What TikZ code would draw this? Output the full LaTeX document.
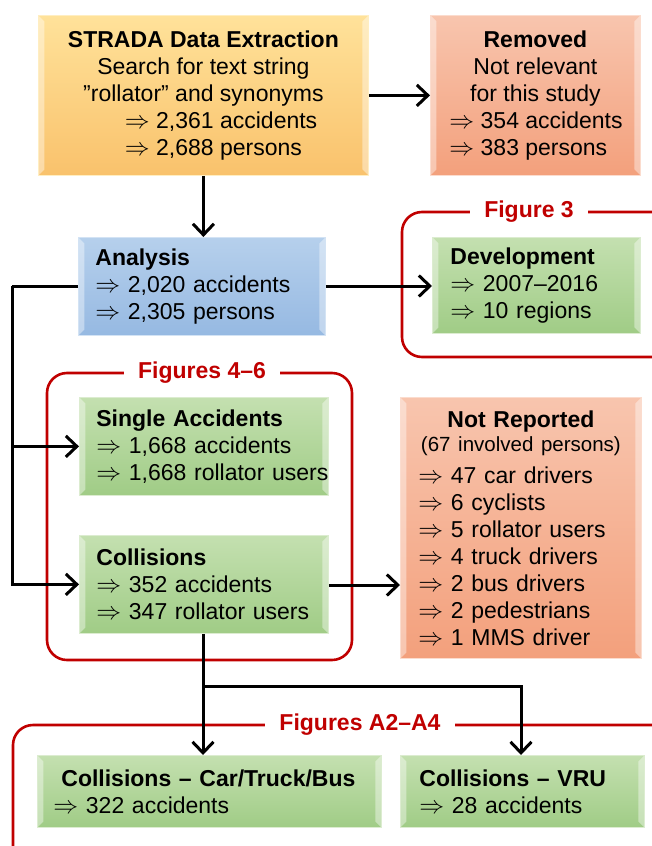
\documentclass[tikz,border=0pt]{standalone}
\usepackage{fontspec}
\setmainfont{Liberation Sans}
\usetikzlibrary{arrows.meta}
\newcommand{\arr}{$\Rightarrow$}
\definecolor{yelT}{HTML}{FFE29A}
\definecolor{yelB}{HTML}{F9C26C}
\definecolor{salT}{HTML}{F8C5AE}
\definecolor{salB}{HTML}{F3A07C}
\definecolor{bluT}{HTML}{B6D0EC}
\definecolor{bluB}{HTML}{96B9E2}
\definecolor{grnT}{HTML}{C4E0B0}
\definecolor{grnB}{HTML}{A0CC86}
\definecolor{figred}{HTML}{C00000}
\tikzset{
  basebox/.style={rectangle, anchor=north west, inner ysep=0pt,
    font=\fontsize{23}{27}\selectfont, text=black,
    path picture={
      \fill[white,opacity=0.4] (path picture bounding box.north west) -- ([xshift=6pt,yshift=-6pt]path picture bounding box.north west) -- ([xshift=6pt,yshift=6pt]path picture bounding box.south west) -- (path picture bounding box.south west) -- cycle;
      \fill[white,opacity=0.4] (path picture bounding box.north east) -- ([xshift=-6pt,yshift=-6pt]path picture bounding box.north east) -- ([xshift=-6pt,yshift=6pt]path picture bounding box.south east) -- (path picture bounding box.south east) -- cycle;
    }},
  ybox/.style={basebox, top color=yelT, bottom color=yelB, draw=yelT!60!white, line width=0.8pt},
  sbox/.style={basebox, top color=salT, bottom color=salB, draw=salT!60!white, line width=0.8pt},
  bbox/.style={basebox, top color=bluT, bottom color=bluB, draw=bluT!60!white, line width=0.8pt},
  gbox/.style={basebox, top color=grnT, bottom color=grnB, draw=grnT!60!white, line width=0.8pt},
  frame/.style={draw=figred, line width=2.6pt, rounded corners=20pt},
  ftitle/.style={fill=white, text=figred, font=\fontsize{23}{27}\selectfont\bfseries, inner xsep=14pt, inner ysep=2pt},
  conn/.style={draw=black, line width=3pt, -{Straight Barb[length=11pt,width=21pt]}},
  plain/.style={draw=black, line width=3pt},
}
\begin{document}
\begin{tikzpicture}[x=1pt,y=-1pt]
\useasboundingbox (0,0) rectangle (652,846);
% frames
\draw[frame] (690,212) -- (402,212) -- (402,357) -- (690,357);
\node[ftitle] (f3) at (529,212) {Figure 3};
\draw[frame] (47,373) rectangle (352,660);
\node[ftitle] (f46) at (202,373) {Figures 4–6};
\draw[frame] (690,725) -- (13,725) -- (13,880);
\node[ftitle] (fa) at (360,725) {Figures A2–A4};
% boxes
\node[ybox, minimum width=330pt, minimum height=160pt, align=center, inner xsep=0pt] (strada) at (38,15)
 {\textbf{STRADA Data Extraction}\\
  Search for text string\\
  ”rollator” and synonyms\\
  \hspace*{36pt}\makebox[193pt][l]{\arr\ 2,361 accidents}\\
  \hspace*{36pt}\makebox[193pt][l]{\arr\ 2,688 persons}};
\node[sbox, minimum width=210pt, minimum height=160pt, align=center, inner xsep=0pt] (removed) at (430,15)
 {\textbf{Removed}\\
  Not relevant\\
  for this study\\
  \makebox[172pt][l]{\arr\ 354 accidents}\\
  \makebox[172pt][l]{\arr\ 383 persons}};
\node[bbox, minimum width=247pt, minimum height=98pt, text width=213pt, align=left, inner xsep=17pt] (analysis) at (78,237)
 {\textbf{Analysis}\\
  \arr\ 2,020 accidents\\
  \arr\ 2,305 persons};
\node[gbox, minimum width=208pt, minimum height=96pt, text width=172pt, align=left, inner xsep=18pt] (dev) at (432,237)
 {\textbf{Development}\\
  \arr\ 2007–2016\\
  \arr\ 10 regions};
\node[gbox, minimum width=247pt, minimum height=98pt, text width=215pt, align=left, inner xsep=17pt] (single) at (79,397)
 {\textbf{Single Accidents}\\
  \arr\ 1,668 accidents\\
  \makebox[\linewidth][l]{\arr\ 1,668 rollator users}};
\node[gbox, minimum width=247pt, minimum height=98pt, text width=215pt, align=left, inner xsep=17pt] (coll) at (79,535)
 {\textbf{Collisions}\\
  \arr\ 352 accidents\\
  \makebox[\linewidth][l]{\arr\ 347 rollator users}};
\node[sbox, minimum width=241pt, minimum height=261pt, text width=205pt, align=left, inner xsep=18pt] (notrep) at (400,397)
 {\makebox[\linewidth]{\textbf{Not Reported}}\\[-3pt]
  \makebox[\linewidth]{\fontsize{20.5}{24}\selectfont (67 involved persons)}\\[5pt]
  \arr\ 47 car drivers\\
  \arr\ 6 cyclists\\
  \arr\ 5 rollator users\\
  \arr\ 4 truck drivers\\
  \arr\ 2 bus drivers\\
  \arr\ 2 pedestrians\\
  \arr\ 1 MMS driver};
\node[gbox, minimum width=330pt, minimum height=72pt, text width=312pt, align=left, inner xsep=16pt] (ctb) at (37,755)
 {\hspace*{8pt}\textbf{Collisions – Car/Truck/Bus}\\
  \arr\ 322 accidents};
\node[gbox, minimum width=243pt, minimum height=72pt, text width=206pt, align=left, inner xsep=19pt] (vru) at (400,755)
 {\textbf{Collisions – VRU}\\
  \arr\ 28 accidents};
% connectors
\draw[conn] (strada.east |- removed.west) -- (removed.west);
\draw[conn] (strada.south) -- (strada.south |- analysis.north);
\draw[conn] (analysis.east |- 0,286) -- (dev.west |- 0,286);
\coordinate (lt) at (12,286);
\draw[plain] (analysis.west |- lt) -- (lt);
\draw[conn] (lt) |- (coll.west);
\draw[conn] (lt |- single.west) -- (single.west);
\draw[conn] (coll.east |- 0,585) -- (notrep.west |- 0,585);
\coordinate (split) at (203,686);
\draw[plain] (coll.south -| split) -- (split);
\draw[conn] (split) -- (split |- ctb.north);
\draw[conn] (split) -| (521,755);
\end{tikzpicture}
\end{document}
